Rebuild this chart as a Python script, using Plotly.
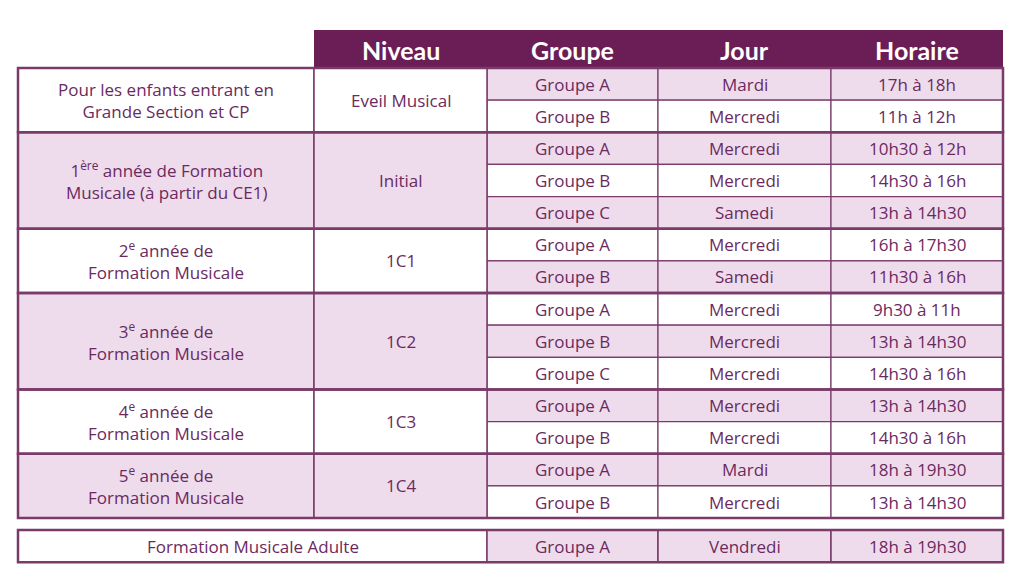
import plotly.graph_objects as go

# --- Données du tableau ---
entetes = ["Niveau", "Groupe", "Jour", "Horaire"]
sections = [
    "Pour les enfants entrant en<br>Grande Section et CP",
    "1<sup>ère</sup> année de Formation<br>Musicale (à partir du CE1)",
    "2<sup>e</sup> année de<br>Formation Musicale",
    "3<sup>e</sup> année de<br>Formation Musicale",
    "4<sup>e</sup> année de<br>Formation Musicale",
    "5<sup>e</sup> année de<br>Formation Musicale",
]
niveaux = ["Eveil Musical", "Initial", "1C1", "1C2", "1C3", "1C4"]
nb_groupes = [2, 3, 2, 3, 2, 2]
groupes = ["Groupe A", "Groupe B", "Groupe A", "Groupe B", "Groupe C", "Groupe A", "Groupe B",
           "Groupe A", "Groupe B", "Groupe C", "Groupe A", "Groupe B", "Groupe A", "Groupe B"]
jours = ["Mardi", "Mercredi", "Mercredi", "Mercredi", "Samedi", "Mercredi", "Samedi",
         "Mercredi", "Mercredi", "Mercredi", "Mercredi", "Mercredi", "Mardi", "Mercredi"]
horaires = ["17h à 18h", "11h à 12h", "10h30 à 12h", "14h30 à 16h", "13h à 14h30", "16h à 17h30",
            "11h30 à 16h", "9h30 à 11h", "13h à 14h30", "14h30 à 16h", "13h à 14h30", "14h30 à 16h",
            "18h à 19h30", "13h à 14h30"]
adulte = ["Formation Musicale Adulte", "Groupe A", "Vendredi", "18h à 19h30"]

# --- Mise en page ---
VIOLET = "#6b1d56"
LAVANDE = "#eedcec"
TEXTE = "#6b2a5e"
BORD = "#7a3a6a"
xs = [18, 314, 487, 658, 831, 1003]
y_entete, y0, h = 30, 68, 32.15
y_adulte = 530
DECALAGE = 8  # marge de la page dans le navigateur

fig = go.Figure()
shapes, annots = [], []

def cellule(x0, x1, ya, yb, fill, width=1.5):
    shapes.append(dict(type="rect", x0=x0, x1=x1, y0=ya, y1=yb, fillcolor=fill,
                       line=dict(color=BORD, width=width), layer="below"))

def texte(x, y, t, size=17, color=TEXTE, font="Open Sans"):
    annots.append(dict(x=x, y=y, text=t, showarrow=False, xanchor="center", yanchor="middle",
                       font=dict(size=size, color=color, family=font)))

# en-tête
shapes.append(dict(type="rect", x0=xs[1], x1=xs[5], y0=y_entete, y1=y0, fillcolor=VIOLET,
                   line=dict(width=0), layer="below"))
for i, e in enumerate(entetes):
    texte((xs[i + 1] + xs[i + 2]) / 2, (y_entete + y0) / 2 + 1, "<b>" + e + "</b>",
          size=25, color="white", font="Lato")

# lignes de groupes
for r in range(len(groupes)):
    ya, yb = y0 + r * h, y0 + (r + 1) * h
    fill = LAVANDE if r % 2 == 0 else "white"
    for c, val in enumerate([groupes[r], jours[r], horaires[r]]):
        cellule(xs[c + 2], xs[c + 3], ya, yb, fill, 1.2)
        texte((xs[c + 2] + xs[c + 3]) / 2, (ya + yb) / 2, val)

# sections fusionnées
r = 0
for s, (sec, niv, n) in enumerate(zip(sections, niveaux, nb_groupes)):
    ya, yb = y0 + r * h, y0 + (r + n) * h
    fill = "white" if s % 2 == 0 else LAVANDE
    cellule(xs[0], xs[1], ya, yb, fill)
    cellule(xs[1], xs[2], ya, yb, fill)
    texte((xs[0] + xs[1]) / 2, (ya + yb) / 2, sec)
    texte((xs[1] + xs[2]) / 2, (ya + yb) / 2, niv)
    shapes.append(dict(type="rect", x0=xs[0], x1=xs[5], y0=ya, y1=yb,
                       line=dict(color=BORD, width=2.5)))
    r += n

# ligne adulte
cellule(xs[0], xs[2], y_adulte, y_adulte + h, "white")
texte((xs[0] + xs[2]) / 2, y_adulte + h / 2, adulte[0])
for c in range(3):
    cellule(xs[c + 2], xs[c + 3], y_adulte, y_adulte + h, LAVANDE)
    texte((xs[c + 2] + xs[c + 3]) / 2, y_adulte + h / 2, adulte[c + 1])
shapes.append(dict(type="rect", x0=xs[0], x1=xs[5], y0=y_adulte, y1=y_adulte + h,
                   line=dict(color=BORD, width=2.5)))

fig.update_layout(
    width=1024, height=585, margin=dict(l=0, r=0, t=0, b=0),
    paper_bgcolor="white", plot_bgcolor="white",
    shapes=shapes, annotations=annots, showlegend=False,
    xaxis=dict(range=[DECALAGE, 1024 + DECALAGE], visible=False, fixedrange=True),
    yaxis=dict(range=[585 + DECALAGE, DECALAGE], visible=False, fixedrange=True),
)

fig.write_html("out.html", config={"displayModeBar": False})
